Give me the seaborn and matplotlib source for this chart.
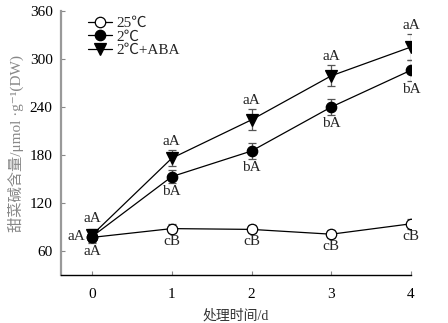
import matplotlib
matplotlib.use("Agg")
import matplotlib.pyplot as plt
import pandas as pd
import seaborn as sns

days = [0, 1, 2, 3, 4]
series_names = ["25℃", "2℃", "2℃+ABA"]
mean_25 = [77, 88, 87, 81, 94]
err_25 = [6, 6, 5, 5, 6]
mean_2 = [78, 153, 185, 240, 286]
err_2 = [8, 8, 10, 10, 13]
mean_aba = [80, 176, 224, 279, 315]
err_aba = [8, 10, 13, 13, 16]
labels_25 = ["aA", "cB", "cB", "cB", "cB"]
labels_2 = ["aA", "bA", "bA", "bA", "bA"]
labels_aba = ["aA", "aA", "aA", "aA", "aA"]

sns.set_style("ticks")
plt.rcParams["font.family"] = ["Liberation Serif", "Noto Sans CJK SC", "DejaVu Sans"]

df = pd.DataFrame({
    "day": days * 3,
    "value": mean_25 + mean_2 + mean_aba,
    "err": err_25 + err_2 + err_aba,
    "group": [series_names[0]] * 5 + [series_names[1]] * 5 + [series_names[2]] * 5,
})

fig = plt.figure(figsize=(4.48, 3.23), dpi=100)
ax = fig.add_axes([61 / 448, 48 / 323, 350 / 448, 264 / 323])

markers = {"25℃": "o", "2℃": "o", "2℃+ABA": "v"}
faces = {"25℃": "white", "2℃": "black", "2℃+ABA": "black"}

for name in series_names:
    sub = df[df["group"] == name]
    ax.errorbar(sub["day"], sub["value"], yerr=sub["err"], fmt="none",
                ecolor="#555555", elinewidth=0.9, capsize=3, capthick=0.9, zorder=2)
    sns.lineplot(data=sub, x="day", y="value", ax=ax, color="black", lw=0.9,
                 marker=markers[name], markersize=7.5 if name != "2℃+ABA" else 8,
                 markerfacecolor=faces[name], markeredgecolor="black",
                 markeredgewidth=0.9, label=name, zorder=3)

fs = 11
for i, d in enumerate(days):
    if d == 0:
        ax.text(d, mean_aba[i] + 12, "aA", ha="center", va="bottom", fontsize=fs)
        ax.text(d - 0.08, mean_2[i], "aA", ha="right", va="center", fontsize=fs)
        ax.text(d, mean_25[i] - 10, "aA", ha="center", va="top", fontsize=fs)
        continue
    ax.text(d, mean_aba[i] + err_aba[i] + 3, labels_aba[i], ha="center", va="bottom", fontsize=fs)
    ax.text(d, mean_2[i] - err_2[i] - 3, labels_2[i], ha="center", va="top", fontsize=fs)
    ax.text(d, mean_25[i] - err_25[i] - 2, labels_25[i], ha="center", va="top", fontsize=fs)

ax.set_xlim(-0.39, 4.0)
ax.set_ylim(30, 360)
ax.set_xticks(days)
ax.set_yticks([60, 120, 180, 240, 300, 360])
ax.tick_params(direction="in", length=3, labelsize=11, colors="black")
ax.tick_params(axis="y", color="#888888", pad=6)
ax.tick_params(axis="x", color="#888888", pad=9)
sns.despine(ax=ax)
ax.spines["left"].set_color("#999999")
ax.spines["left"].set_linewidth(1.6)
ax.spines["bottom"].set_color("black")
ax.spines["bottom"].set_linewidth(1.0)

ax.set_xlabel("处理时间/d", fontsize=10, color="#333333", labelpad=6)
ax.set_ylabel("甜菜碱含量/μmol ·g⁻¹(DW)", fontsize=11, color="#888888", labelpad=4)

ax.legend(loc="upper left", bbox_to_anchor=(0.05, 1.015), frameon=False,
          fontsize=11, handlelength=1.6, handletextpad=0.3, labelspacing=0.0,
          borderaxespad=0.2)

fig.savefig("out.png", dpi=100)
